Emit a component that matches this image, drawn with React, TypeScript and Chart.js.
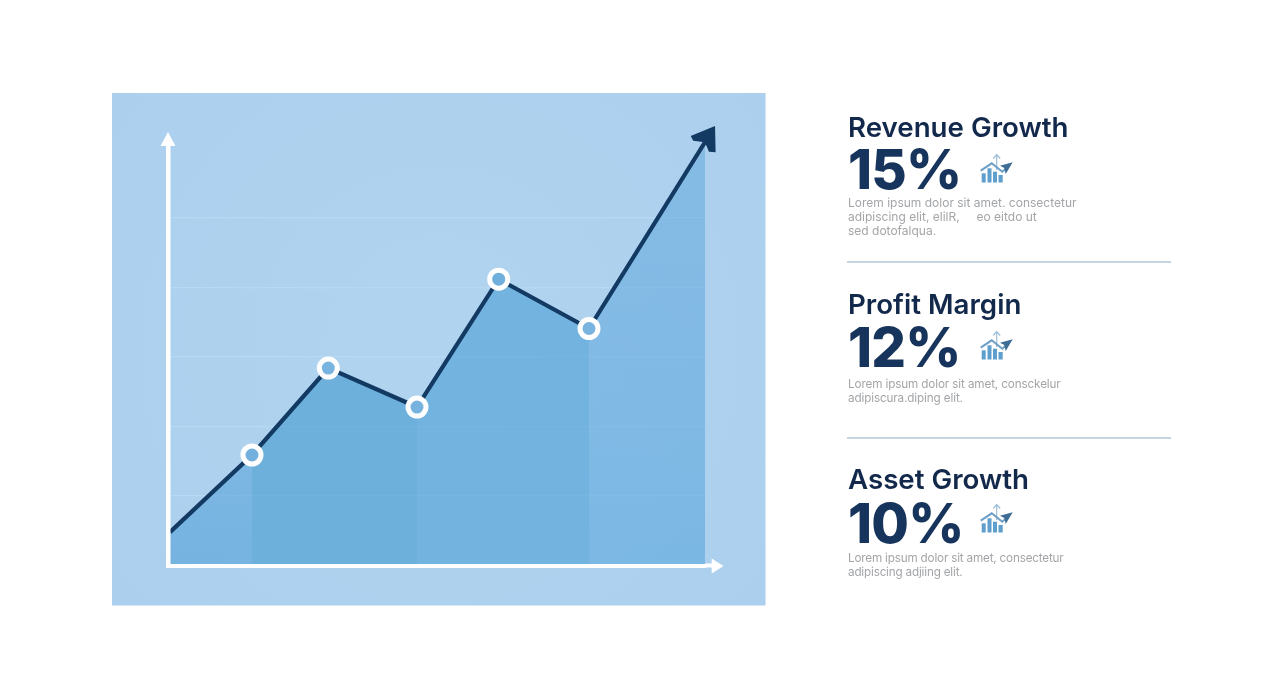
import React, { useEffect, useRef } from "react";
import { Chart, registerables } from "chart.js";

Chart.register(...registerables);

const xValues = [0.2, 8.4, 16.03, 24.9, 33.07, 42.1, 54.28];
const lineValues = [4.8, 15.9, 28.4, 22.8, 41.2, 34.1, 62.26];
const areaX = [0.2, 8.4, 16.03, 24.9, 33.07, 42.1, 53.7];
const areaValues = [4.8, 15.9, 28.4, 22.8, 41.2, 34.1, 60.2];
const gridTicks = [10, 20, 30, 40, 50];
const markerFill = ["", "#74b0dd", "#79b3df", "#78b3df", "#70aedc", "#79b3df", ""];

const bandFlat = {
  1: "rgba(69,155,209,0.62)",
  2: "rgba(69,155,209,0.62)",
  3: "rgba(78,160,213,0.62)",
  4: "rgba(78,160,213,0.62)",
} as Record<number, string>;

const metrics = [
  {
    title: "Revenue Growth",
    value: "15%",
    titleBase: 137,
    valueBase: 189,
    lines: ["Lorem ipsum dolor sit amet. consectetur", "adipiscing elit, elilR,     eo eitdo ut", "sed dotofalqua."],
    textBases: [207.5, 221.5, 235],
    iconTop: 154,
    textSize: 12,
    spacing: 0,
  },
  {
    title: "Profit Margin",
    value: "12%",
    titleBase: 314,
    valueBase: 367.5,
    lines: ["Lorem ipsum dolor sit amet, consckelur", "adipiscura.diping elit."],
    textBases: [389, 403],
    iconTop: 331.4,
    textSize: 11.7,
    spacing: -0.12,
  },
  {
    title: "Asset Growth",
    value: "10%",
    titleBase: 489,
    valueBase: 543,
    lines: ["Lorem ipsum dolor sit amet, consectetur", "adipiscing adjiing elit."],
    textBases: [563, 577],
    iconTop: 504,
    textSize: 11.7,
    spacing: -0.18,
  },
];
const dividers = [262, 438];

const FONT = "Inter, 'Noto Sans', sans-serif";

function baseStyle(base: number, size: number): React.CSSProperties {
  // Inter ascent 0.969 em, descent 0.242 em
  const lh = Math.round(size * 1.3);
  const top = base - ((lh - 1.211 * size) / 2 + 0.969 * size);
  return { position: "absolute", left: 848, top, lineHeight: `${lh}px`, fontSize: size, whiteSpace: "pre", fontFamily: FONT };
}

function Icon({ top }: { top: number }) {
  return (
    <svg width={36} height={32} viewBox="0 0 36 32" style={{ position: "absolute", left: 980, top }}>
      <path d="M16.7 16 V1 M13.2 4.5 L16.7 0.5 L20.2 4.5" fill="none" stroke="#9dbfd9" strokeWidth={1.2} />
      <g fill="#5f9fcd">
        <rect x={1.7} y={19.3} width={4} height={9.2} />
        <rect x={7.5} y={14.3} width={4} height={14.2} />
        <rect x={13} y={17.7} width={4} height={10.8} />
        <rect x={18.5} y={21} width={4.2} height={7.5} />
      </g>
      <path d="M0.7 16.7 L11.7 9.3 L22.3 17.7 L27 13.5" fill="none" stroke="#6e9fc6" strokeWidth={2} />
      <path d="M32.7 8.3 L20 11.7 L24.3 14 L25.7 20 Z" fill="#3e6d96" />
    </svg>
  );
}

function verticalFill(chart: any, topColor: string, bottomColor: string) {
  const { ctx, chartArea } = chart;
  const g = ctx.createLinearGradient(0, chartArea.top, 0, chartArea.bottom);
  g.addColorStop(0, topColor);
  g.addColorStop(1, bottomColor);
  return g;
}

const decorations = {
  id: "decorations",
  beforeDraw(chart: any) {
    const { ctx } = chart;
    ctx.save();
    const g = ctx.createRadialGradient(439, 350, 80, 439, 350, 430);
    g.addColorStop(0, "#b0d3ef");
    g.addColorStop(1, "#abcfed");
    ctx.fillStyle = g;
    ctx.fillRect(112, 93, 653.5, 512.5);
    ctx.restore();
  },
  afterDraw(chart: any) {
    const { ctx, chartArea } = chart;
    const { left, bottom, right, top } = chartArea;
    ctx.save();
    ctx.fillStyle = "#ffffff";
    // y axis head
    ctx.beginPath();
    ctx.moveTo(left, top - 14);
    ctx.lineTo(left + 7.5, top);
    ctx.lineTo(left - 7.5, top);
    ctx.closePath();
    ctx.fill();
    // x axis shaft extension and head
    ctx.fillRect(right, bottom - 2, 7, 4);
    ctx.beginPath();
    ctx.moveTo(right + 18.5, bottom + 0.5);
    ctx.lineTo(right + 6.7, bottom + 8);
    ctx.lineTo(right + 6.7, bottom - 7);
    ctx.closePath();
    ctx.fill();
    // head on the end of the line
    const pts = chart.getDatasetMeta(0).data;
    const tip = pts[pts.length - 1];
    const prev = pts[pts.length - 2];
    const a = Math.atan2(tip.y - prev.y, tip.x - prev.x);
    ctx.translate(tip.x, tip.y);
    ctx.rotate(a);
    ctx.translate(8, 0);
    ctx.fillStyle = "#133a63";
    ctx.beginPath();
    ctx.moveTo(0, 0);
    ctx.lineTo(-22, 14.4);
    ctx.lineTo(-25, 8.4);
    ctx.lineTo(-19, 0);
    ctx.lineTo(-24, -10.7);
    ctx.lineTo(-21.3, -15.4);
    ctx.closePath();
    ctx.fill();
    ctx.restore();
  },
};

export default function App() {
  const ref = useRef<HTMLCanvasElement | null>(null);

  useEffect(() => {
    document.body.style.margin = "0";
    document.body.style.background = "#ffffff";
    const chart = new Chart(ref.current as HTMLCanvasElement, {
      type: "line",
      data: {
        datasets: [
          {
            label: "Trend",
            data: xValues.map((x, i) => ({ x, y: lineValues[i] })),
            borderColor: "#133a63",
            borderWidth: 4.2,
            fill: false,
            clip: false,
            tension: 0,
            pointRadius: (c: any) => (markerFill[c.dataIndex] ? 9 : 0),
            pointBorderWidth: 5,
            pointBorderColor: "#ffffff",
            pointBackgroundColor: (c: any) => markerFill[c.dataIndex] || "transparent",
          },
          {
            label: "Area",
            data: areaX.map((x, i) => ({ x, y: areaValues[i] })),
            borderWidth: 0,
            borderColor: "transparent",
            pointRadius: 0,
            tension: 0,
            fill: "origin",
            backgroundColor: "rgba(78,160,213,0.62)",
            segment: {
              backgroundColor: (c: any) => {
                if (c.p0DataIndex === 0) return verticalFill(c.chart, "rgba(110,175,225,0.50)", "rgba(78,158,215,0.58)");
                if (c.p0DataIndex === 5) return verticalFill(c.chart, "rgba(100,170,222,0.55)", "rgba(88,165,220,0.58)");
                return bandFlat[c.p0DataIndex];
              },
            },
          },
        ],
      },
      options: {
        responsive: false,
        animation: false,
        events: [],
        layout: { padding: { left: 168, right: 575, top: 146, bottom: 132.5 } },
        plugins: { legend: { display: false }, tooltip: { enabled: false }, title: { display: false } },
        scales: {
          x: {
            type: "linear",
            min: 0,
            max: 53.7,
            grid: { display: false, drawTicks: false },
            border: { display: true, color: "#ffffff", width: 4, z: 1 },
            ticks: { display: false },
          },
          y: {
            type: "linear",
            min: 0,
            max: 60.36,
            afterBuildTicks: (scale: any) => {
              scale.ticks = gridTicks.map((value) => ({ value }));
            },
            grid: { display: true, color: "#b8d9f4", lineWidth: 1.3, drawTicks: false },
            border: { display: true, color: "#ffffff", width: 4.5, z: 1 },
            ticks: { display: false },
          },
        },
      },
      plugins: [decorations],
    } as any);
    return () => chart.destroy();
  }, []);

  return (
    <div style={{ position: "relative", width: 1280, height: 698, background: "#fff", overflow: "hidden" }}>
      <canvas ref={ref} width={1280} height={698} style={{ position: "absolute", left: 0, top: 0, display: "block" }} />
      {metrics.map((m) => (
        <React.Fragment key={m.title}>
          <div style={{ ...baseStyle(m.titleBase, 27.7), fontWeight: 600, color: "#13294b" }}>{m.title}</div>
          <div style={{ ...baseStyle(m.valueBase, 54.5), fontWeight: 800, letterSpacing: -0.8, color: "#17345c" }}>{m.value}</div>
          {m.lines.map((t, i) => (
            <div key={i} style={{ ...baseStyle(m.textBases[i], m.textSize), color: "#a3a5a8", letterSpacing: m.spacing }}>{t}</div>
          ))}
          <Icon top={m.iconTop} />
        </React.Fragment>
      ))}
      {dividers.map((y) => (
        <div key={y} style={{ position: "absolute", left: 847, top: y - 1, width: 324, height: 1.5, background: "#c4d5e1" }} />
      ))}
    </div>
  );
}
